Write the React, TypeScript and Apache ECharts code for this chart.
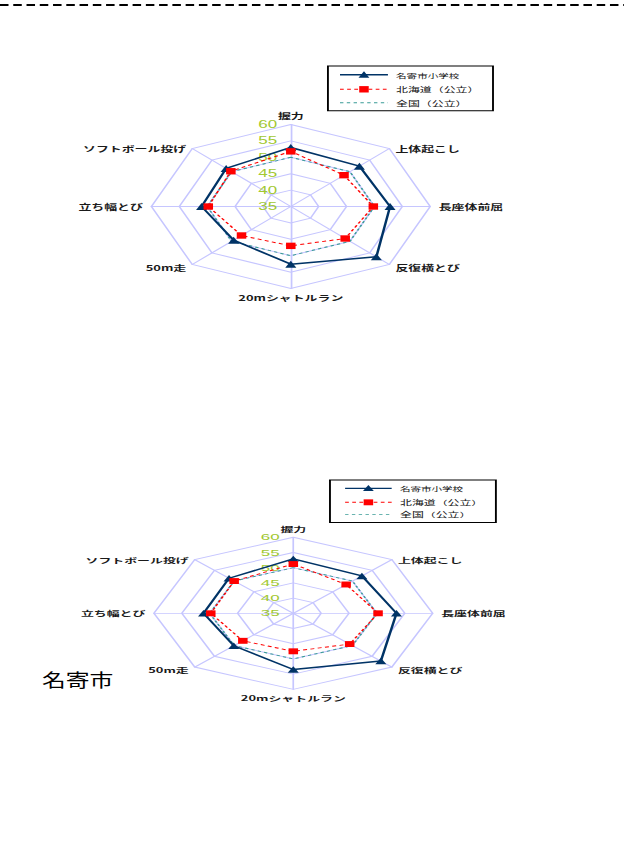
import React, { useEffect, useRef } from 'react';
import * as echarts from 'echarts';

// ---- data ----
const indicators = ['握力', 'ソフトボール投げ', '立ち幅とび', '50m走', '20mシャトルラン', '反復横とび', '長座体前屈', '上体起こし'];
const seriesNames = ['名寄市小学校', '北海道（公立）', '全国（公立）'];
const axisMin = 35;
const axisMax = 60;
const axisInterval = 5;

const topNayoro = [53.0, 51.4, 51.0, 49.5, 52.6, 56.7, 52.8, 52.4];
const topHokkaido = [51.8, 50.2, 49.8, 47.5, 47.0, 48.8, 49.8, 48.5];
const topNational = [50, 50, 50, 50, 50, 50, 50, 50];

const bottomNayoro = [52.9, 51.3, 51.1, 50.1, 53.5, 57.2, 53.5, 52.4];
const bottomHokkaido = [51.2, 50.0, 49.8, 47.8, 47.5, 49.3, 50.2, 48.4];
const bottomNational = [50, 50, 50, 50, 50, 50, 50, 50];

const placeName = '名寄市';

// ---- styles ----
const SX = 1.7;
const SY2 = 0.927;
const NAVY = '#003366';
const RED = '#ff0000';
const TEAL = '#3a9c96';
const GRID = '#c6c6ff';
const LABEL = '#a2c832';
const NAME = '#1a1a1a';
const JP = "'Noto Sans CJK JP', 'Noto Sans', sans-serif";
const NUM = "'Liberation Sans Narrow', 'Liberation Sans', Arial, sans-serif";

type LegendGeo = { x: number; y: number; w: number; h: number; rows: number[]; lx1: number; lx2: number; tx: number };

function legendGraphics(g: LegendGeo) {
  const mx = (g.lx1 + g.lx2) / 2;
  const els: any[] = [
    { type: 'rect', z: 10, shape: { x: g.x, y: g.y, width: g.w, height: g.h }, style: { fill: '#fff', stroke: '#000', lineWidth: 1.1 } },
    { type: 'line', z: 11, shape: { x1: g.lx1, y1: g.rows[0], x2: g.lx2, y2: g.rows[0] }, style: { stroke: NAVY, lineWidth: 1.4 } },
    { type: 'polygon', z: 12, shape: { points: [[mx - 3.2, g.rows[0] + 3], [mx + 3.2, g.rows[0] + 3], [mx, g.rows[0] - 3.5]] }, style: { fill: NAVY } },
    { type: 'line', z: 11, shape: { x1: g.lx1, y1: g.rows[1], x2: g.lx2, y2: g.rows[1] }, style: { stroke: RED, lineWidth: 1, lineDash: [2.2, 2] } },
    { type: 'rect', z: 12, shape: { x: mx - 2.8, y: g.rows[1] - 3.2, width: 5.6, height: 6.4 }, style: { fill: RED } },
    { type: 'line', z: 11, shape: { x1: g.lx1, y1: g.rows[2], x2: g.lx2, y2: g.rows[2] }, style: { stroke: TEAL, lineWidth: 1, lineDash: [2, 2] } },
  ];
  seriesNames.forEach((n, i) => {
    els.push({
      type: 'text', z: 12, x: g.tx, y: g.rows[i],
      style: { text: n, fill: '#111', font: `${i === 0 ? 6.2 : 7}px ${JP}`, textAlign: 'left', textVerticalAlign: 'middle' },
    });
  });
  return els;
}

function makeOption(center: number[], nayoro: number[], hokkaido: number[], national: number[], graphics: any[]) {
  return {
    animation: false,
    backgroundColor: '#fff',
    graphic: { elements: graphics },
    radar: {
      center,
      radius: 82,
      startAngle: 90,
      splitNumber: (axisMax - axisMin) / axisInterval,
      shape: 'polygon',
      nameGap: 5,
      indicator: indicators.map((name, i) => ({
        name,
        min: axisMin,
        max: axisMax,
        ...(i === 0 ? { axisLabel: { show: true } } : {}),
      })),
      axisName: {
        color: NAME,
        fontSize: 7.6,
        fontWeight: 'bold',
        fontFamily: JP,
        formatter: (name: string) => {
          if (name === 'ソフトボール投げ' || name === '上体起こし') return `{u|${name}}`;
          return name;
        },
        rich: {
          u: { color: NAME, fontSize: 7.6, fontWeight: 'bold', fontFamily: JP, padding: [8, 0, 0, 0] },
        },
      },
      axisLine: { lineStyle: { color: GRID, width: 1 } },
      splitLine: { lineStyle: { color: GRID, width: 1 } },
      splitArea: { show: false },
      axisTick: { show: false },
      axisLabel: { show: false, color: LABEL, fontSize: 10, fontFamily: NUM, margin: 8 },
    },
    series: [
      {
        type: 'radar',
        silent: true,
        data: [
          { name: seriesNames[2], value: national, symbol: 'none', lineStyle: { color: TEAL, width: 1, type: [2, 2] }, itemStyle: { color: TEAL } },
          { name: seriesNames[0], value: nayoro, symbol: 'triangle', symbolSize: [6.5, 7], lineStyle: { color: NAVY, width: 1.5 }, itemStyle: { color: NAVY } },
          { name: seriesNames[1], value: hokkaido, symbol: 'rect', symbolSize: [5.6, 6.4], lineStyle: { color: RED, width: 1, type: [2.4, 2] }, itemStyle: { color: RED } },
        ],
      },
    ],
  };
}

export default function App() {
  const topRef = useRef<HTMLDivElement>(null);
  const botRef = useRef<HTMLDivElement>(null);

  useEffect(() => {
    if (!topRef.current || !botRef.current) return;
    const top = echarts.init(topRef.current, undefined, { renderer: 'svg' });
    const bot = echarts.init(botRef.current, undefined, { renderer: 'svg' });

    const topGraphics = [
      { type: 'line', shape: { x1: 0, y1: 5, x2: 624 / SX, y2: 5 }, style: { stroke: '#000', lineWidth: 2, lineDash: [5, 2.8] } },
      ...legendGraphics({ x: 192.9, y: 66, w: 97.1, h: 44.7, rows: [74.7, 89.3, 102.7], lx1: 200, lx2: 228.2, tx: 233 }),
    ];
    const botGraphics = [
      ...legendGraphics({ x: 194.1, y: 59.3, w: 97.6, h: 46, rows: [68.3, 83.4, 96.4], lx1: 203, lx2: 230.4, tx: 235.3 }),
      {
        type: 'text', x: 42 / SX, y: (679 - 425) / SY2, scaleX: 0.7,
        style: { text: placeName, fill: '#000', font: `20px ${JP}`, textAlign: 'left', textVerticalAlign: 'middle' },
      },
    ];

    top.setOption(makeOption([290.8 / SX, 206.5], topNayoro, topHokkaido, topNational, topGraphics));
    bot.setOption(makeOption([293.3 / SX, (613.3 - 425) / SY2], bottomNayoro, bottomHokkaido, bottomNational, botGraphics));

    return () => {
      top.dispose();
      bot.dispose();
    };
  }, []);

  return (
    <div style={{ position: 'absolute', left: 0, top: 0, width: 624, height: 850, overflow: 'hidden', background: '#fff' }}>
      <div
        ref={topRef}
        style={{ position: 'absolute', left: 0, top: 0, width: 624 / SX, height: 425, transform: `scaleX(${SX})`, transformOrigin: '0 0' }}
      />
      <div
        ref={botRef}
        style={{ position: 'absolute', left: 0, top: 425, width: 624 / SX, height: 425 / SY2, transform: `scale(${SX}, ${SY2})`, transformOrigin: '0 0' }}
      />
    </div>
  );
}
